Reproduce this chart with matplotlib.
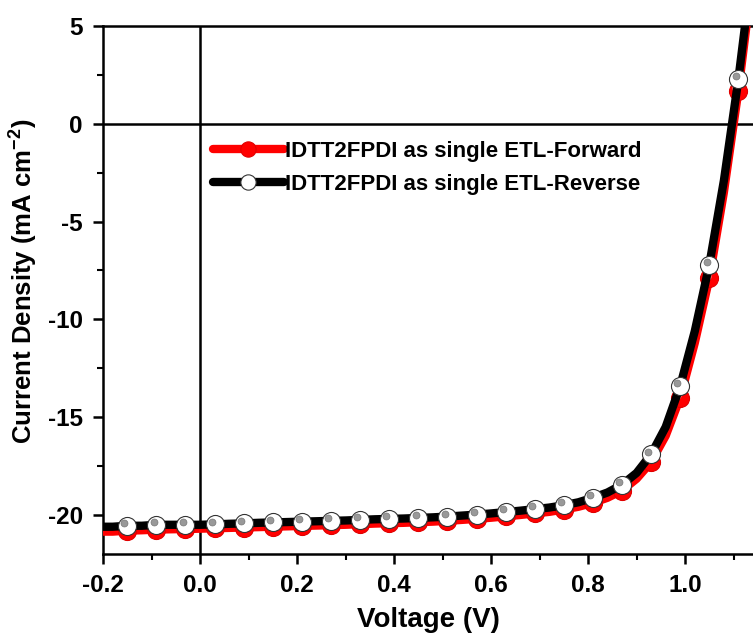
import matplotlib
matplotlib.use("Agg")
import matplotlib.pyplot as plt
from matplotlib.ticker import MultipleLocator
from matplotlib.transforms import offset_copy

plt.rcParams['font.family'] = ['Liberation Sans', 'DejaVu Sans']
plt.rcParams['font.weight'] = 'bold'
plt.rcParams['mathtext.fontset'] = 'custom'
plt.rcParams['mathtext.rm'] = 'Liberation Sans:bold'
plt.rcParams['mathtext.bf'] = 'Liberation Sans:bold'
plt.rcParams['mathtext.default'] = 'bf'

voltage = [-0.21, -0.18, -0.15, -0.12, -0.09, -0.06, -0.03, 0.00, 0.03, 0.06,
           0.09, 0.12, 0.15, 0.18, 0.21, 0.24, 0.27, 0.30, 0.33, 0.36,
           0.39, 0.42, 0.45, 0.48, 0.51, 0.54, 0.57, 0.60, 0.63, 0.66,
           0.69, 0.72, 0.75, 0.78, 0.81, 0.84, 0.87, 0.90, 0.93, 0.96,
           0.99, 1.02, 1.05, 1.08, 1.11, 1.14]
j_reverse = [-20.6, -20.6, -20.55, -20.55, -20.5, -20.5, -20.5, -20.5, -20.48, -20.45,
             -20.43, -20.4, -20.38, -20.36, -20.34, -20.32, -20.3, -20.28, -20.25, -20.22,
             -20.2, -20.18, -20.15, -20.12, -20.08, -20.03, -19.98, -19.92, -19.85, -19.78,
             -19.7, -19.62, -19.5, -19.35, -19.12, -18.85, -18.45, -17.85, -16.9, -15.5,
             -13.4, -10.6, -7.2, -2.9, 2.3, 8.3]
j_forward = [-20.85, -20.85, -20.8, -20.78, -20.75, -20.73, -20.72, -20.7, -20.68, -20.66,
             -20.64, -20.62, -20.6, -20.58, -20.56, -20.54, -20.52, -20.5, -20.47, -20.44,
             -20.42, -20.4, -20.37, -20.34, -20.3, -20.25, -20.2, -20.14, -20.07, -20.0,
             -19.92, -19.84, -19.72, -19.58, -19.38, -19.12, -18.75, -18.15, -17.3, -15.95,
             -14.0, -11.2, -7.9, -3.5, 1.7, 7.7]
labels = ["IDTT2FPDI as single ETL-Forward", "IDTT2FPDI as single ETL-Reverse"]

fig = plt.figure(figsize=(7.53, 6.34), dpi=100)
ax = fig.add_axes([0.1368, 0.126, 0.8632, 0.833])

mk = (2, 2)
l1, = ax.plot(voltage, j_forward, color='#ff0000', lw=6, marker='o', markersize=13,
              markerfacecolor='#ff0000', markeredgecolor='#e00000', markeredgewidth=0.8,
              markevery=mk, solid_capstyle='round', zorder=3)
hl1 = offset_copy(ax.transData, fig=fig, x=-2, y=2, units='points')
ax.plot(voltage, j_forward, ls='none', marker='o', markersize=5, color='#ff8080',
        markevery=mk, transform=hl1, zorder=3.1)
l2, = ax.plot(voltage, j_reverse, color='black', lw=6, marker='o', markersize=13,
              markerfacecolor='white', markeredgecolor='#333333', markeredgewidth=0.8,
              markevery=mk, solid_capstyle='round', zorder=4)
ax.plot(voltage, j_reverse, ls='none', marker='o', markersize=5, color='#999999',
        markeredgecolor='#777777', markeredgewidth=0.5,
        markevery=mk, transform=hl1, zorder=4.1)

ax.axhline(0, color='black', lw=1.8, zorder=2)
ax.axvline(0, color='black', lw=1.8, zorder=2)

ax.set_xlim(-0.2, 1.14)
ax.set_ylim(-22, 5)
ax.xaxis.set_minor_locator(MultipleLocator(0.1))
ax.yaxis.set_minor_locator(MultipleLocator(2.5))
ax.set_xticks([-0.2, 0.0, 0.2, 0.4, 0.6, 0.8, 1.0])
ax.set_xticklabels(['-0.2', '0.0', '0.2', '0.4', '0.6', '0.8', '1.0'])
ax.set_yticks([-20, -15, -10, -5, 0, 5])
ax.set_yticklabels(['-20', '-15', '-10', '-5', '0', '5'])

for s in ['left', 'bottom', 'top']:
    ax.spines[s].set_linewidth(1.8)
ax.spines['right'].set_visible(False)
ax.tick_params(which='major', direction='out', length=7, width=1.8, labelsize=17.5, pad=7.5)
ax.tick_params(which='minor', direction='out', length=4, width=1.5)
ax.tick_params(top=False, right=False)
for t in ax.get_xticklabels() + ax.get_yticklabels():
    t.set_fontweight('bold')

ax.set_xlabel('Voltage (V)', fontsize=20, fontweight='bold', labelpad=7)
ax.set_ylabel('Current Density (mA cm$^{-2}$)', fontsize=18.5, fontweight='bold')
ax.yaxis.set_label_coords(-0.097, 0.517)

leg = ax.legend([l1, l2], labels, loc='upper left', bbox_to_anchor=(0.155, 0.80),
                frameon=False, handlelength=3.2, handletextpad=0.05, numpoints=1,
                labelspacing=0.55, borderaxespad=0, prop={'weight': 'bold', 'size': 16})
for h in leg.legend_handles:
    h.set_markevery([1])
    h.set_markersize(11)

fig.savefig('out.png', dpi=100)
